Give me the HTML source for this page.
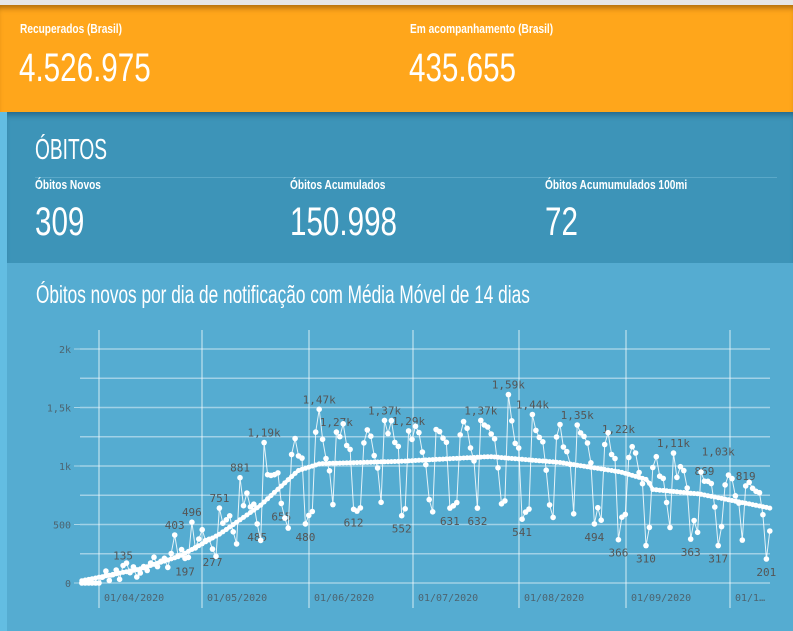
<!DOCTYPE html><html><head><meta charset="utf-8"><style>
body{margin:0;width:793px;height:631px;overflow:hidden;background:#55acd1;font-family:"Liberation Sans Narrow","Liberation Sans",sans-serif;color:#fff;position:relative}
.a{position:absolute}
.n{font-family:"Liberation Sans Narrow","Liberation Sans",sans-serif;transform-origin:0 0;transform:scaleX(.82);white-space:nowrap}
.b{font-weight:bold;transform:scaleX(.78)}
</style></head><body>
<div class="a" style="left:0;top:0;width:793px;height:6px;background:#e6e6e6"></div>
<div class="a" style="left:0;top:5px;width:793px;height:107px;background:#ffa61b;box-shadow:inset 0 6px 6px -3px rgba(120,70,0,.6)"></div>
<div class="a n b" style="left:20px;top:21px;font-size:13px">Recuperados (Brasil)</div>
<div class="a n b" style="left:410px;top:21px;font-size:13px">Em acompanhamento (Brasil)</div>
<div class="a n" style="left:19px;top:46px;font-size:40px;transform:scaleX(.74)">4.526.975</div>
<div class="a n" style="left:409px;top:46px;font-size:40px;transform:scaleX(.74)">435.655</div>
<div class="a" style="left:0;top:112px;width:7px;height:519px;background:#63bde2"></div>
<div class="a" style="left:7px;top:112px;width:786px;height:151px;background:#3d94b8;box-shadow:inset 0 6px 6px -3px rgba(0,40,70,.4)"></div>
<div class="a n" style="left:35px;top:134px;font-size:29px;transform:scaleX(.66)">ÓBITOS</div>
<div class="a" style="left:35px;top:177px;width:742px;height:1px;background:#5aa8c8"></div>
<div class="a n b" style="left:35px;top:177px;font-size:13px">Óbitos Novos</div>
<div class="a n b" style="left:290px;top:177px;font-size:13px">Óbitos Acumulados</div>
<div class="a n b" style="left:545px;top:177px;font-size:13px">Óbitos Acumumulados 100mi</div>
<div class="a n" style="left:35px;top:200px;font-size:40px;transform:scaleX(.74)">309</div>
<div class="a n" style="left:290px;top:200px;font-size:40px;transform:scaleX(.74)">150.998</div>
<div class="a n" style="left:545px;top:200px;font-size:40px;transform:scaleX(.74)">72</div>
<div class="a n" style="left:36px;top:281px;font-size:25px;transform:scaleX(.69)">Óbitos novos por dia de notificação com Média Móvel de 14 dias</div>
<svg class="a" style="left:0;top:0" width="793" height="631" id="s"></svg>
<script>
var s=document.getElementById('s'),h='';
function Y(v){return 583-v*0.117}
for(var i=0;i<=8;i++){var y=Y(i*250);h+='<line x1="80" x2="770" y1="'+y+'" y2="'+y+'" stroke="rgba(255,255,255,.45)" stroke-width="1.5"/>';}
var yl=[[0,'0'],[500,'500'],[1000,'1k'],[1500,'1,5k'],[2000,'2k']];
yl.forEach(function(a){var y=Y(a[0]);h+='<line x1="74" x2="80" y1="'+y+'" y2="'+y+'" stroke="rgba(255,255,255,.5)"/><text x="71" y="'+(y+4)+'" text-anchor="end" font-size="10" fill="#4d6470" font-family="DejaVu Sans Mono">'+a[1]+'</text>';});
var vx=[[99,'01/04/2020'],[202,'01/05/2020'],[309,'01/06/2020'],[413,'01/07/2020'],[519,'01/08/2020'],[626,'01/09/2020'],[730,'01/1…']];
vx.forEach(function(a){h+='<line x1="'+a[0]+'" x2="'+a[0]+'" y1="330" y2="608" stroke="rgba(255,255,255,.5)" stroke-width="1.5"/><text x="'+(a[0]+5)+'" y="601" font-size="10" fill="#4d6470" font-family="DejaVu Sans Mono">'+a[1]+'</text>';});
var mk=[[82,20],[100,50],[140,120],[180,230],[220,420],[260,660],[298,960],[320,1020],[400,1040],[490,1080],[560,1030],[620,950],[648,880],[652,800],[700,760],[770,640]];
function ma(x){for(var i=1;i<mk.length;i++)if(x<=mk[i][0]){var a=mk[i-1],b=mk[i];return a[1]+(b[1]-a[1])*(x-a[0])/(b[0]-a[0]);}return 640}
var f=[1.22,1.28,1.18,1.1,0.95,0.62,0.6],pts=[],mp=[];
for(var d=-5;d<=195;d++){var x=99+d*3.44,m=ma(x),amp=x<200?0.5:1;var v=m*(1+(f[((d%7)+7)%7]-1)*amp)+((d*37)%11-5)*12;if(v<0)v=0;pts.push([x,Y(v)]);mp.push([x,Y(m)]);}
var L=[[122,150,'135'],[173,410,'403'],[185,210,'197'],[191,520,'496'],[212,290,'277'],[218,640,'751'],[239,900,'881'],[258,505,'485'],[264,1200,'1,19k'],[281,680,'655'],[305,505,'480'],[319,1485,'1,47k'],[335,1290,'1,27k'],[353,630,'612'],[384,1390,'1,37k'],[401,575,'552'],[408,1300,'1,29k'],[450,640,'631'],[480,1390,'1,37k'],[477,640,'632'],[508,1610,'1,59k'],[522,545,'541'],[532,1440,'1,44k'],[577,1350,'1,35k'],[594,505,'494'],[620,1230,'1,22k'],[618,370,'366'],[647,320,'310'],[673,1110,'1,11k'],[690,375,'363'],[704,870,'869'],[718,1040,'1,03k'],[718,320,'317'],[746,830,'819'],[767,205,'201']];
L.forEach(function(l){var best=0,bd=1e9;pts.forEach(function(p,i){var dd=Math.abs(p[0]-l[0]);if(dd<bd){bd=dd;best=i}});pts[best][1]=Y(l[1]);var up=l[1]>ma(l[0]);h+='<text x="'+pts[best][0]+'" y="'+(up?Y(l[1])-6:Y(l[1])+17)+'" text-anchor="middle" font-size="11" fill="#555" font-family="DejaVu Sans Mono">'+l[2]+'</text>';});
h+='<polyline fill="none" stroke="rgba(255,255,255,.85)" stroke-width="1" points="'+pts.map(function(p){return p[0].toFixed(1)+','+p[1].toFixed(1)}).join(' ')+'"/>';
pts.forEach(function(p){h+='<circle cx="'+p[0].toFixed(1)+'" cy="'+p[1].toFixed(1)+'" r="2.8" fill="#fff"/>';});
h+='<polyline fill="none" stroke="#fff" stroke-width="3.5" points="'+mp.map(function(p){return p[0].toFixed(1)+','+p[1].toFixed(1)}).join(' ')+'"/>';
mp.forEach(function(p){h+='<circle cx="'+p[0].toFixed(1)+'" cy="'+p[1].toFixed(1)+'" r="2.5" fill="#fff"/>';});
s.innerHTML=h;
</script>
</body></html>
